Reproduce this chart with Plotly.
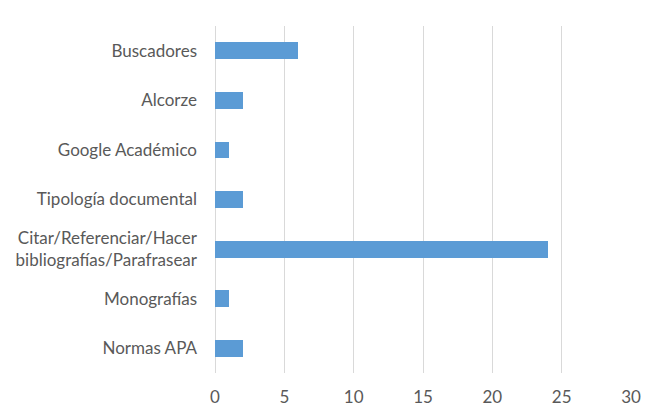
import plotly.graph_objects as go

categories = ["Buscadores", "Alcorze", "Google Académico", "Tipología documental",
              "Citar/Referenciar/Hacer<br>bibliografías/Parafrasear", "Monografías", "Normas APA"]
values = [6, 2, 1, 2, 24, 1, 2]
x_ticks = [0, 5, 10, 15, 20, 25, 30]

fig = go.Figure(go.Bar(
    x=values, y=categories, orientation="h",
    marker=dict(color="#5B9BD5", line=dict(width=0)),
    width=0.34,
))
fig.update_layout(
    width=645, height=406,
    margin=dict(l=215, r=14, t=26, b=33, autoexpand=False),
    paper_bgcolor="white", plot_bgcolor="white",
    font=dict(family="Lato, Open Sans, sans-serif", size=17, color="#595959"),
    showlegend=False,
    bargap=0,
)
fig.update_xaxes(range=[0, 30], tickvals=x_ticks, showgrid=True, gridcolor="#D9D9D9",
                 gridwidth=1, zeroline=True, zerolinecolor="#D9D9D9", zerolinewidth=1,
                 showline=False, ticks="", ticklabelstandoff=12, automargin=False)
fig.update_yaxes(categoryorder="array", categoryarray=categories, range=[6.5, -0.5],
                 showgrid=False, showline=False, ticks="", ticklabelstandoff=17,
                 automargin=False)
fig.write_html("out.html", config={"displayModeBar": False},
               post_script="document.body.style.margin='0';document.body.style.overflow='hidden';")
